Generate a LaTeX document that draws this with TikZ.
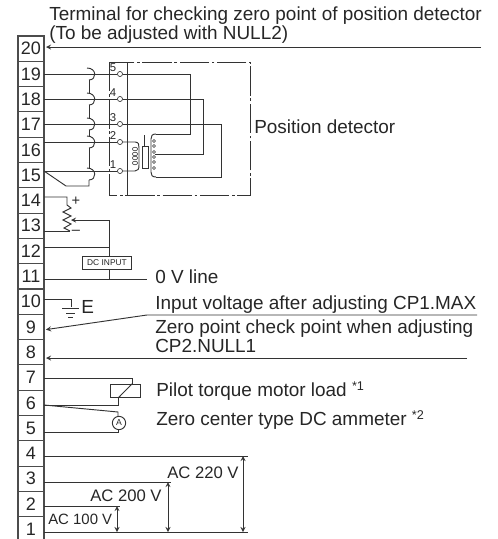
\documentclass[tikz,border=0pt]{standalone}
\usepackage{tikz}
\usepackage{xcolor}
\usepackage{fontspec}
\setmainfont{Liberation Sans}

\tikzset{
  wire/.style={black!80,line width=0.7pt},
  termbox/.style={draw=black!70,line width=0.8pt,rectangle,minimum width=19.5pt,minimum height=19pt,inner sep=0pt,outer sep=0pt,text=black!85,font=\fontsize{13.5}{14}\selectfont},
  lbl/.style={anchor=base west,inner sep=0pt,text=black!85,font=\fontsize{14.2}{15}\selectfont},
  acl/.style={anchor=base west,inner sep=0pt,text=black!85,font=\fontsize{12.5}{14}\selectfont},
  pin/.style={draw=black!80,line width=0.5pt,circle,fill=white,minimum size=3.8pt,inner sep=0pt},
  pinnum/.style={inner sep=0pt,text=black!85,font=\fontsize{8.5}{9}\selectfont},
  tipgap/.style={shorten >=1.5pt},
  >=stealth
}

\begin{document}
\begin{tikzpicture}[x=0.75pt,y=-0.75pt]
\useasboundingbox (0,0) rectangle (497,539);

% terminal strip
\foreach \n in {1,...,20} {
  \pgfmathsetmacro{\ypos}{48.65+(20-\n)*25.3}
  \node[termbox] (t\n) at (31,\ypos) {\n};
}

\node[lbl] (head1) at (49,21) {Terminal for checking zero point of position detector};
\node[lbl] (head2) at (49,39) {(To be adjusted with NULL2)};
\coordinate (end20) at (481,47);
\draw[->,wire,tipgap] (end20) -- (t20.east |- end20);

% position detector
\draw[black!80,line width=0.7pt,dash pattern=on 22pt off 2pt on 2pt off 2pt] (109,62) rectangle (250,195);
\coordinate (divtop) at (127,62);
\coordinate (divbot) at (127,195);
\draw[wire] (divtop) -- (divbot);
\node[lbl,anchor=west] (posdet) at (254,127) {Position detector};

\node[pin] (p5) at (120,74) {};
\node[pin] (p4) at (120,99) {};
\node[pin] (p3) at (120,124) {};
\node[pin] (p2) at (120,142) {};
\node[pin] (p1) at (120,171) {};
\node[pinnum] (n5) at (113,68) {5};
\node[pinnum] (n4) at (113,93) {4};
\node[pinnum] (n3) at (113,118) {3};
\node[pinnum] (n2) at (113,136) {2};
\node[pinnum] (n1) at (113,165) {1};

\draw[wire] (t19.east |- p5) -- (p5);
\draw[wire] (t18.east |- p4) -- (p4);
\draw[wire] (t17.east |- p3) -- (p3);
\draw[wire] (t16.east |- p2) -- (p2);
\draw[wire] (t15.east |- p1) -- (p1);

\draw[wire] (p5) -- (190,74) -- (190,134) -- (156,134);
\draw[wire] (p4) -- (203,99) -- (203,154) -- (155,154);
\draw[wire] (p3) -- (221,124) -- (221,177) -- (156,177);

% jumper 15
\coordinate (jmp) at (66,186);
\coordinate (jmpb) at (89,186);
\draw[wire] (t15.east |- p1) -- (jmp) -- (jmpb) -- (89,180);
\foreach \y in {74,99,124,142,174} {
  \draw[wire] (87,\y-6) .. controls (97,\y-6) and (97,\y+6) .. (89,\y+6);
}
\foreach \a/\b in {80/93,105/118,130/136,148/168} {
  \draw[wire] (89,\a) -- (89,\b);
}

% coils
\draw[wire] (p2) -- (135,142) .. controls (139,142) and (139,145) .. (139,148) -- (139,165) .. controls (139,169) and (138,171) .. (135,171) -- (p1);
\foreach \y in {149,154,158,163} {
  \draw[wire,line width=0.4pt] (135,\y) ellipse [x radius=2.6,y radius=1.8];
}
\draw[wire] (142,146) rectangle (148,168);
\draw[wire] (144.5,135) -- (144.5,146);
\draw[wire] (156,134) .. controls (152,134) and (151,136) .. (151,139) -- (151,172) .. controls (151,175) and (152,177) .. (156,177);
\foreach \y in {141,146,152,157,162,168} {
  \draw[wire,line width=0.4pt,fill=white] (154,\y) circle [radius=1.6];
}

% potentiometer
\coordinate (rtop) at (67,205);
\coordinate (rbot) at (70,231);
\draw[wire] (t14.east |- 0,197) -- (67,197) -- (rtop) -- (71,208) -- (63,212) -- (71,216) -- (63,220) -- (71,224) -- (64,228) -- (rbot);
\draw[wire] (t13.east |- rbot) -- (rbot);
\node[pinnum,font=\fontsize{11}{12}\selectfont] (plus) at (76,201) {+};
\node[pinnum,font=\fontsize{11}{12}\selectfont] (minus) at (76,232) {–};

% DC input
\node[draw=black!80,line width=0.7pt,fill=white,inner sep=2pt,minimum width=37pt,minimum height=10pt,text=black!85,font=\fontsize{6.3}{7}\selectfont] (dcin) at (107,263) {DC INPUT};
\coordinate (wiper) at (109,220);
\draw[->,wire] (wiper) -- (71,220);
\draw[wire] (wiper) -- (dcin.north -| wiper);
\coordinate (zero) at (147,279);
\draw[wire] (t11.east |- zero) -- (zero);
\draw[wire] (dcin.south -| wiper) -- (wiper |- zero);
\coordinate (w12) at (109,247);
\draw[wire] (t12.east |- w12) -- (w12);
\node[lbl] (zeroline) at (155,283) {0 V line};

% ground
\coordinate (gnd) at (71,307);
\draw[wire] (t10.east |- 0,299) -- (71,299) -- (gnd);
\draw[wire] (62,308) -- (79,308);
\draw[wire] (66,313) -- (75,313);
\draw[wire] (68,317) -- (73,317);
\node[lbl] (earth) at (81,313) {E};

% check points
\node[lbl] (inv) at (155,309) {Input voltage after adjusting CP1.MAX};
\node[lbl] (zp1) at (155,333) {Zero point check point when adjusting};
\node[lbl] (zp2) at (155,352) {CP2.NULL1};
\coordinate (knee) at (147,315);
\coordinate (end9) at (477,315);
\coordinate (end8) at (467,358);
\draw[->,wire,tipgap] (end9) -- (knee) -- ([yshift=-2.2pt]t9.east);
\draw[->,wire,tipgap] (end8) -- (t8.east |- end8);

% relay and ammeter
\node[draw=black!80,line width=0.7pt,rectangle,minimum width=23pt,minimum height=10pt,inner sep=0pt] (relay) at (125.5,391) {};
\node[draw=black!80,line width=0.7pt,circle,minimum size=10pt,inner sep=0pt,text=black!85,font=\fontsize{6.5}{7}\selectfont] (amm) at (119,423) {A};
\coordinate (r7) at (132,378);
\coordinate (r6) at (118,405);
\coordinate (a6) at (118,412);
\coordinate (a5) at (118,432);
\draw[wire] (t7.east |- r7) -- (r7) -- (r7 |- relay.north);
\draw[wire] (r7 |- relay.north) -- (r6 |- relay.south);
\draw[wire] (r6 |- relay.south) -- (r6) -- (t6.east |- r6);
\draw[wire] (t6.east |- r6) -- (a6) -- (amm.north -| a6);
\draw[wire] (amm.south -| a5) -- (a5) -- (t5.east |- a5);
\node[lbl] (pilot) at (156,396) {Pilot torque motor load \raisebox{4pt}{\fontsize{9.5}{10}\selectfont *1}};
\node[lbl] (ammlbl) at (156,425) {Zero center type DC ammeter \raisebox{4pt}{\fontsize{9.5}{10}\selectfont *2}};

% AC supply
\coordinate (ac4) at (248,456);
\coordinate (ac3) at (171,482);
\coordinate (ac2) at (120,506);
\coordinate (ac1) at (248,532);
\draw[wire] (t4.east |- ac4) -- (ac4);
\draw[wire] (t3.east |- ac3) -- (ac3);
\draw[wire] (t2.east |- ac2) -- (ac2);
\draw[wire] (t1.east |- ac1) -- (ac1);
\coordinate (d220) at (243,456);
\coordinate (d200) at (168,482);
\coordinate (d100) at (117,506);
\draw[<->,wire] (d220) -- (d220 |- ac1);
\draw[<->,wire] (d200) -- (d200 |- ac1);
\draw[<->,wire] (d100) -- (d100 |- ac1);
\node[acl] (v220) at (167,478) {AC 220 V};
\node[acl] (v200) at (90,501) {AC 200 V};
\node[acl,font=\fontsize{11.2}{12}\selectfont] (v100) at (48,524) {AC 100 V};
\end{tikzpicture}
\end{document}
